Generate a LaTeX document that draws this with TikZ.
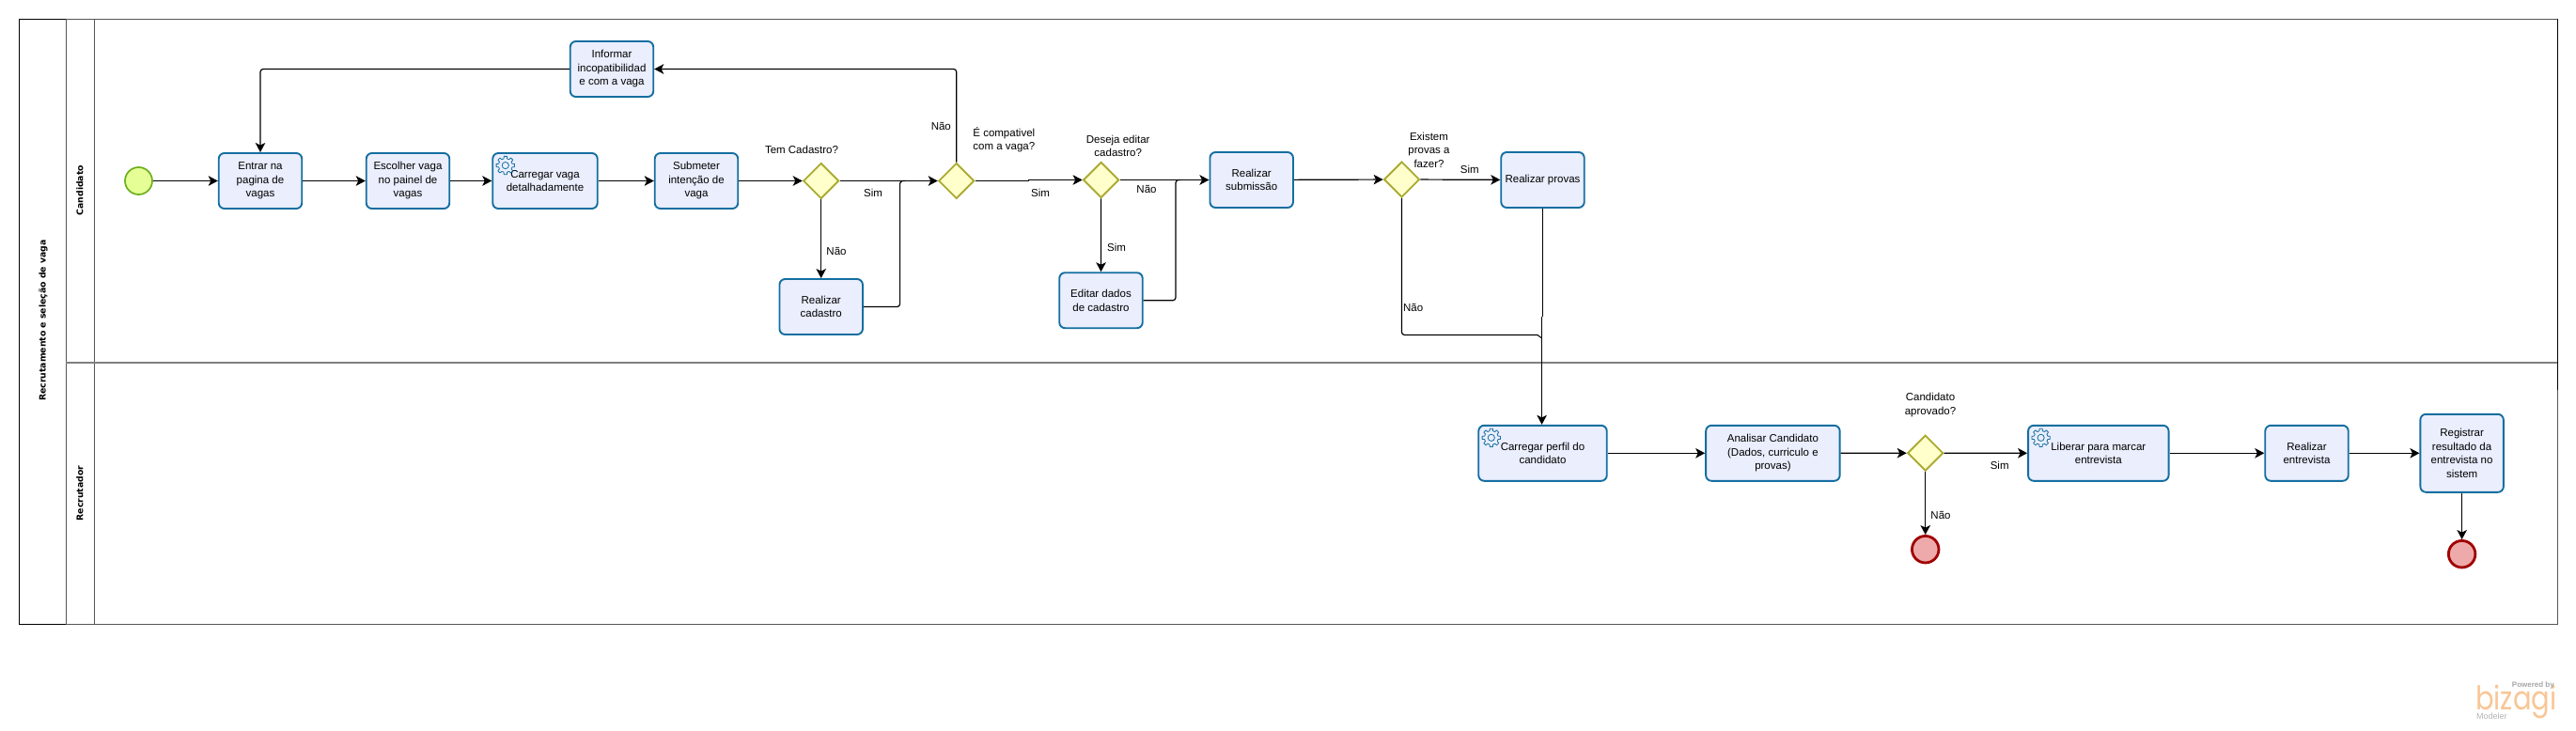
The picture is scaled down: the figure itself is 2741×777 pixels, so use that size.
\documentclass[tikz,border=0pt]{standalone}
\usepackage{fontspec}
\usepackage{xcolor}
\usepackage{tikz}
\usetikzlibrary{shapes.geometric, arrows.meta, positioning, calc}
\setmainfont{Liberation Sans}
\newfontfamily\titlefont{DejaVu Sans}
\newfontfamily\logofont{Poppins}
\definecolor{taskblue}{RGB}{234,238,253}
\definecolor{taskedge}{RGB}{20,110,160}
\definecolor{gatefill}{RGB}{255,255,204}
\definecolor{gateedge}{RGB}{170,170,50}
\definecolor{startfill}{RGB}{229,255,150}
\definecolor{startedge}{RGB}{110,175,30}
\definecolor{endfill}{RGB}{238,170,170}
\definecolor{endedge}{RGB}{160,0,0}
\definecolor{lanegray}{RGB}{85,85,85}
\definecolor{logoorange}{RGB}{248,198,150}

\begin{document}
\begin{tikzpicture}[x=1pt, y=-1pt,
    task/.style={rectangle, draw=taskedge, line width=1.9pt, rounded corners=6pt, fill=taskblue,
                 minimum height=59pt, text centered, align=center, inner sep=1pt,
                 font=\fontsize{11.5}{14.5}\selectfont},
    gate/.style={diamond, draw=gateedge, line width=1.9pt, fill=gatefill, inner sep=0pt,
                 minimum width=38pt, minimum height=38pt, aspect=1},
    startev/.style={circle, draw=startedge, line width=1.7pt, fill=startfill, inner sep=0pt, minimum size=29pt},
    endev/.style={circle, draw=endedge, line width=2.8pt, fill=endfill, inner sep=0pt, minimum size=28.5pt},
    flow/.style={-{Stealth[length=10pt,width=10.5pt,inset=2.5pt]}, line width=1.2pt, rounded corners=3pt},
    jogflow/.style={-{Stealth[length=10pt,width=10.5pt,inset=2.5pt]}, line width=1.2pt},
    plain/.style={line width=1.2pt, rounded corners=3pt},
    lbl/.style={font=\fontsize{11.5}{14.5}\selectfont, align=center, inner sep=0pt},
    lanehd/.style={font=\titlefont\bfseries\fontsize{9.3}{11}\selectfont, rotate=90, inner sep=0pt},
    lane/.style={draw=lanegray, line width=1.1pt},
    gearpic/.pic={
        \draw[taskedge, line width=0.8pt, line join=round] (-14:7.4)
            \foreach \a in {0,45,...,315} { -- (\a-9:9.8) -- (\a+9:9.8) -- (\a+14:7.4) -- (\a+31:7.4) } -- cycle;
        \draw[taskedge, line width=0.8pt] (0,0) circle (3.6);
    }]

\useasboundingbox (0,0) rectangle (2741,777);

%% Pool and lanes
\draw[lane] (70.4,20.3) rectangle (2721.5,664.2);
\draw[lane] (100.4,20.3) -- (100.4,664.2);
\draw[black!50, line width=1.9pt] (70.4,386) -- (2721.5,386);
\draw[black, line width=1.1pt] (70.4,20.3) -- (20.4,20.3) -- (20.4,664.2) -- (70.4,664.2);
\draw[black, line width=1.1pt] (2721.5,20.3) -- (2721.5,415);
\node[lanehd] (pooltitle) at (46,341) {Recrutamento e seleção de vaga};
\node[lanehd] (candlane) at (85,202.6) {Candidato};
\node[lanehd] (recrlane) at (85,525) {Recrutador};

%% Candidato lane
\node[startev] (inicio) at (147.5,192.5) {};
\node[task, minimum width=88.5pt] (entrar) at (277,192.5) {Entrar na\\pagina de\\vagas};
\node[task, minimum width=88.5pt] (escolher) at (434,192.5) {Escolher vaga\\no painel de\\vagas};
\node[task, minimum width=111.5pt, text depth=0pt] (carregar) at (580,192.5) {Carregar vaga\\detalhadamente};
\node[task, minimum width=88.5pt] (informar) at (651,73.5) {Informar\\incopatibilidad\\e com a vaga};
\node[task, minimum width=88.5pt] (submeter) at (741,192.5) {Submeter\\intenção de\\vaga};
\node[gate] (temcad) at (873.7,192.5) {};
\node[gate] (compat) at (1017.7,192.5) {};
\node[gate] (editq) at (1171.6,191.5) {};
\node[task, minimum width=88.5pt] (cadastro) at (873.7,326.5) {Realizar\\cadastro};
\node[task, minimum width=88.5pt] (editar) at (1171.5,319.7) {Editar dados\\de cadastro};
\node[task, minimum width=88.5pt] (submissao) at (1331.7,191.5) {Realizar\\submissão};
\node[gate] (provasq) at (1491.5,191) {};
\node[task, minimum width=88.5pt] (provas) at (1641.5,191.5) {Realizar provas};

%% Recrutador lane
\node[task, minimum width=136.5pt] (perfil) at (1641.5,482.3) {Carregar perfil do\\candidato};
\node[task, minimum width=142.5pt] (analisar) at (1886.4,482.3) {Analisar Candidato\\(Dados, curriculo e\\provas)};
\node[gate] (aprovq) at (2048.7,482.2) {};
\node[endev] (fim1) at (2048.7,584.7) {};
\node[task, minimum width=149.5pt] (liberar) at (2232.8,482.3) {Liberar para marcar\\entrevista};
\node[task, minimum width=88.5pt] (entrevista) at (2454.5,482.3) {Realizar\\entrevista};
\node[task, minimum width=88.5pt, minimum height=83pt] (registrar) at (2619.6,482.3) {Registrar\\resultado da\\entrevista no\\sistem};
\node[endev] (fim2) at (2619.6,589.7) {};

%% Service icons
\foreach \t in {carregar,perfil,liberar}
    \pic at ($(\t.north west)+(14.5,14)$) {gearpic};

%% Free ends of the merging flows
\coordinate (bendcad) at (957.6,192.5);
\coordinate (mergecad) at (963,192.5);
\coordinate (bendedit) at (1251,191.5);
\coordinate (mergeedit) at (1256,191.5);
\coordinate (jogcompA) at (1094.6,192.5);
\coordinate (jogcompB) at (1094.6,191.5);
\coordinate (jogprovasA) at (1641.5,336.5);
\coordinate (jogprovasB) at (1640.6,336.5);
\coordinate (bendprovas) at (1636,356.5);
\coordinate (mergeprovas) at (1640.6,360);

%% Flows
\draw[flow] (inicio) -- (entrar);
\draw[flow] (entrar) -- (escolher);
\draw[flow] (escolher) -- (carregar);
\draw[flow] (carregar.east |- submeter) -- (submeter);
\draw[flow] (submeter) -- (temcad);
\draw[flow] (temcad) -- (compat);
\draw[flow] (temcad) -- (cadastro);
\draw[plain] (cadastro) -| (bendcad) -- (mergecad);
\draw[flow] (compat.north) |- (informar.east);
\draw[flow] (informar.west) -| (entrar.north);
\draw[jogflow] (compat.east) -- (jogcompA) -- (jogcompB) -- (editq.west);
\draw[flow] (editq) -- (submissao);
\draw[flow] (editq) -- (editar);
\draw[plain] (editar) -| (bendedit) -- (mergeedit);
\draw[flow] (submissao) -- (provasq);
\draw[flow] (provasq) -- (provas);
\draw[line width=1.2pt] (provas.south) -- (jogprovasA) -- (jogprovasB);
\draw[jogflow] (jogprovasB) -- (perfil.north -| jogprovasB);
\draw[plain] (provasq.south) |- (bendprovas);
\draw[line width=1pt] (bendprovas) -- (mergeprovas);
\draw[flow] (perfil) -- (analisar);
\draw[flow] (analisar) -- (aprovq);
\draw[flow] (aprovq) -- (liberar);
\draw[flow] (aprovq) -- (fim1);
\draw[flow] (liberar) -- (entrevista);
\draw[flow] (entrevista) -- (registrar);
\draw[flow] (registrar) -- (fim2);

%% Labels
\node[lbl] (lbltem) at (853,159.3) {Tem Cadastro?};
\node[lbl] (lblsim1) at (929,205) {Sim};
\node[lbl] (lblnao1) at (890,267) {Não};
\node[lbl] (lblnao2) at (1001.3,134) {Não};
\node[lbl] (lblcomp) at (1068.3,148.5) {É compativel\\com a vaga?};
\node[lbl] (lblsim2) at (1107,205) {Sim};
\node[lbl] (lbldes) at (1189.7,155.5) {Deseja editar\\cadastro?};
\node[lbl] (lblnao3) at (1220,201) {Não};
\node[lbl] (lblsim3) at (1188,263) {Sim};
\node[lbl] (lblexist) at (1520.5,159.7) {Existem\\provas a\\fazer?};
\node[lbl] (lblsim4) at (1563.8,180.3) {Sim};
\node[lbl] (lblnao4) at (1503.6,327.3) {Não};
\node[lbl] (lblaprov) at (2054,430.8) {Candidato\\aprovado?};
\node[lbl] (lblnao5) at (2065,548.3) {Não};
\node[lbl] (lblsim5) at (2127.7,495.3) {Sim};

%% Logo
\node[font=\logofont\fontsize{29}{29}\selectfont, text=logoorange, anchor=base west, inner sep=0pt, yscale=1.2] (bizagi) at (2634,755) {bizagi};
\node[font=\fontsize{8}{9}\selectfont\bfseries, text=gray!70, anchor=east, inner sep=0pt] (powered) at (2718,729) {Powered by};
\node[font=\fontsize{9}{10}\selectfont, text=gray!60, anchor=west, inner sep=0pt] (modeler) at (2635,762) {Modeler};

\end{tikzpicture}
\end{document}
